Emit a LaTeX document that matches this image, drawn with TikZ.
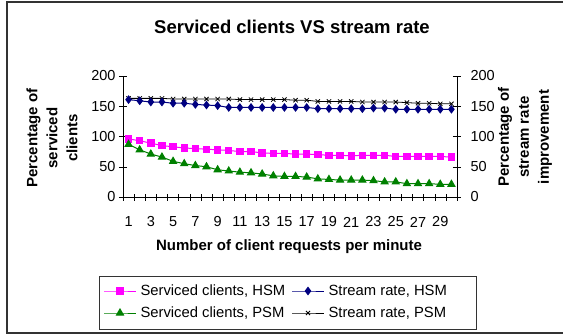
\documentclass[tikz,border=0pt]{standalone}
\usepackage{fontspec}
\setmainfont{Liberation Sans}
\usetikzlibrary{plotmarks}
\definecolor{hsmpink}{RGB}{255,0,255}
\definecolor{hsmblue}{RGB}{0,0,128}
\definecolor{psmgreen}{RGB}{0,128,0}
\tikzset{
  serv hsm/.style={hsmpink,line width=1pt,mark=square*,mark size=3.2pt},
  serv psm/.style={psmgreen,line width=1pt,mark=triangle*,mark size=4pt},
  rate hsm/.style={hsmblue,line width=1pt,mark=diamond*,mark size=3.6pt},
  rate psm/.style={black,line width=0.8pt,mark=x,mark size=3pt},
  axislabel/.style={font=\bfseries\fontsize{15}{20}\selectfont,align=center},
  legtext/.style={anchor=west,font=\fontsize{14.8}{16}\selectfont}
}
\begin{document}
\begin{tikzpicture}[x=1pt,y=-1pt,font=\fontsize{14.5}{16}\selectfont]
\useasboundingbox (0,0) rectangle (563,335);
\draw[line width=1.2pt,black!80] (563,2) -- (7,2) -- (7,333) -- (563,333);
\node[font=\bfseries\fontsize{18.5}{22}\selectfont] (title) at (292,27) {Serviced clients VS stream rate};

% axes and data
\begin{scope}[shift={(117.43,197)},x=11.133pt,y=0.605pt]
        \draw (0.5,0) -- (30.5,0);
        \draw (0.5,0) -- (0.5,200);
        \draw (30.5,0) -- (30.5,200);
        \foreach \k in {0,...,30}
        \draw[shift={(\k+0.5,0)}] (0pt,3pt) -- (0pt,-4pt);
        \foreach \v in {0,50,...,200}
        \draw[shift={(0.5,\v)}] (-4pt,0pt) -- (4pt,0pt) node[anchor=east,xshift=-8pt] (yl\v) {\v};
        \foreach \v in {0,50,...,200}
        \draw[shift={(30.5,\v)}] (-4pt,0pt) -- (4pt,0pt) node[anchor=west,xshift=6pt] (yr\v) {\v};
        \foreach \i in {1,3,...,29}
        \node (xl\i) at (\i,0) [yshift=-25pt] {\i};
        \draw[rate psm] plot coordinates {(1,163) (2,163) (3,163) (4,163) (5,162) (6,162) (7,162) (8,162) (9,162) (10,162)
          (11,161) (12,161) (13,161) (14,161) (15,161) (16,160) (17,160) (18,158) (19,158) (20,158)
          (21,158) (22,157) (23,157) (24,157) (25,157) (26,156) (27,155) (28,155) (29,154) (30,154)};
        \draw[rate hsm] plot coordinates {(1,161) (2,159) (3,157) (4,157) (5,155) (6,155) (7,153) (8,152) (9,151) (10,148)
          (11,148) (12,148) (13,148) (14,148) (15,148) (16,148) (17,148) (18,146) (19,146) (20,146)
          (21,146) (22,146) (23,147) (24,147) (25,145) (26,145) (27,145) (28,145) (29,145) (30,145)};
        \draw[serv hsm] plot coordinates {(1,96) (2,93) (3,89) (4,85) (5,83) (6,81) (7,80) (8,79) (9,78) (10,77)
          (11,75) (12,75) (13,73) (14,72) (15,72) (16,71) (17,71) (18,70) (19,69) (20,69)
          (21,68) (22,69) (23,69) (24,69) (25,67) (26,67) (27,67) (28,67) (29,67) (30,66)};
        \draw[serv psm] plot coordinates {(1,87) (2,78) (3,71) (4,66) (5,59) (6,55) (7,52) (8,50) (9,45) (10,43)
          (11,41) (12,40) (13,38) (14,35) (15,34) (16,34) (17,33) (18,30) (19,29) (20,28)
          (21,28) (22,28) (23,27) (24,25) (25,25) (26,22) (27,22) (28,22) (29,21) (30,21)};
\end{scope}

\node[axislabel] (xlabel) at (289,247) {Number of client requests per minute};
\node[axislabel,rotate=90] (ylabel) at (52,138) {Percentage of\\serviced\\clients};
\node[axislabel,rotate=90] (y2label) at (525,137) {Percentage of\\stream rate\\improvement};

% legend
\draw[black!80] (99,276) rectangle (476,329);
\draw[serv hsm,mark indices={2}] plot coordinates {(104,291) (120,291) (136,291)};
\node[legtext] (leg1) at (137,291) {Serviced clients, HSM};
\draw[rate hsm,mark indices={2}] plot coordinates {(292,291) (308,291) (324,291)};
\node[legtext] (leg2) at (325,291) {Stream rate, HSM};
\draw[serv psm,mark indices={2}] plot coordinates {(104,313) (120,313) (136,313)};
\node[legtext] (leg3) at (137,313) {Serviced clients, PSM};
\draw[rate psm,mark indices={2}] plot coordinates {(292,313) (308,313) (324,313)};
\node[legtext] (leg4) at (325,313) {Stream rate, PSM};
\end{tikzpicture}
\end{document}
